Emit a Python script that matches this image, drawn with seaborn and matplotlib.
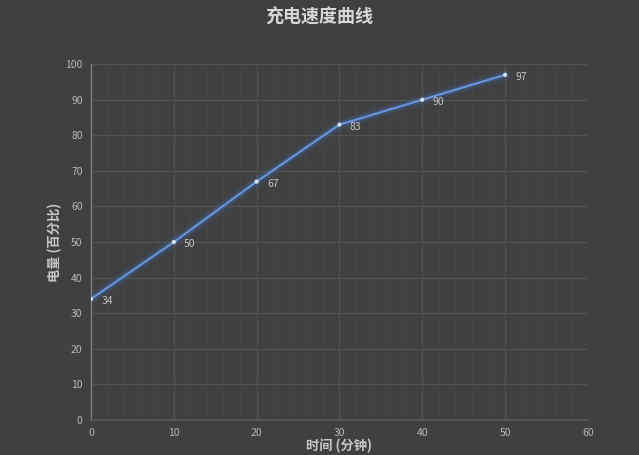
import matplotlib
matplotlib.use("Agg")
import matplotlib.pyplot as plt
import seaborn as sns
import pandas as pd
from matplotlib.ticker import MultipleLocator

minutes = [0, 10, 20, 30, 40, 50]
charge = [34, 50, 67, 83, 90, 97]
x_ticks = [0, 10, 20, 30, 40, 50, 60]
y_ticks = [0, 10, 20, 30, 40, 50, 60, 70, 80, 90, 100]

title = "充电速度曲线"
xlabel = "时间 (分钟)"
ylabel = "电量 (百分比)"

sns.set_theme(style="dark")
plt.rcParams['font.family'] = ['Noto Sans CJK SC', 'DejaVu Sans']

bg = "#404040"
df = pd.DataFrame({"minutes": minutes, "charge": charge})

fig = plt.figure(figsize=(6.39, 4.55), dpi=100, facecolor=bg)
ax = fig.add_axes([0.1424, 0.077, 0.7776, 0.782])
ax.set_facecolor(bg)

# glow layers
for lw, a in [(9, 0.05), (6, 0.09), (4, 0.16)]:
    sns.lineplot(data=df, x="minutes", y="charge", ax=ax, color="#3f7fe0",
                 linewidth=lw, alpha=a, legend=False)
sns.lineplot(data=df, x="minutes", y="charge", ax=ax, color="#6896d8",
             linewidth=1.5, legend=False)
ax.scatter(minutes, charge, s=9, color="#d6e4f7", zorder=5, edgecolors="none")

for xv, yv in zip(minutes, charge):
    ax.annotate(str(yv), (xv, yv), xytext=(7.5, -1.5), textcoords="offset points",
                color="#c4c4c4", fontsize=7.5, va="center", ha="left")

ax.set_xlim(0, 60)
ax.set_ylim(0, 100)
ax.set_xticks(x_ticks)
ax.set_yticks(y_ticks)
ax.xaxis.set_minor_locator(MultipleLocator(2))
ax.grid(which="major", color="#525252", linewidth=0.9)
ax.grid(which="minor", axis="x", color="#484848", linewidth=0.6)
ax.tick_params(axis="both", colors="#b8b8b8", labelsize=7.5, length=0, pad=6)
ax.tick_params(which="minor", length=0)

for s in ["top", "right"]:
    ax.spines[s].set_visible(False)
ax.spines["left"].set_color("#858585")
ax.spines["bottom"].set_color("#585858")
ax.spines["left"].set_linewidth(0.9)

ax.set_xlabel(xlabel, color="#c8c8c8", fontsize=9.5, fontweight="bold", labelpad=0)
ax.set_ylabel(ylabel, color="#c8c8c8", fontsize=9.5, fontweight="bold", labelpad=2)
fig.text(0.5, 0.962, title, color="#d8d8d8", fontsize=13, fontweight="bold",
         ha="center", va="center")

fig.savefig("out.png", dpi=100, facecolor=bg)
